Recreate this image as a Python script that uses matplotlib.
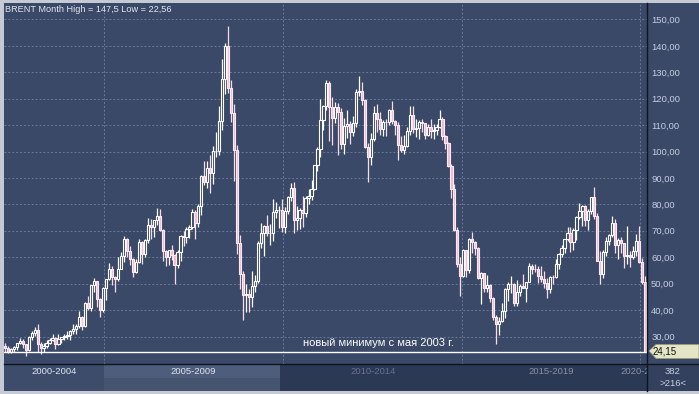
import matplotlib
matplotlib.use("Agg")
import matplotlib.pyplot as plt
from matplotlib.patches import Rectangle, Polygon
import numpy as np

plt.rcParams['font.family'] = ['Liberation Sans', 'DejaVu Sans']

# Brent, monthly bars, Apr 2002 .. Mar 2020 (216 bars)
first_month = "2002-04"
opens = [
    26.3, 25.7, 24.1, 25.3, 25.9, 27.5, 28.4, 27.1, 24.9,                    # 2002
    30.0, 31.2, 32.6, 27.3, 25.8, 26.5, 27.6, 28.7, 29.5, 27.3, 29.0, 29.8,  # 2003
    30.3, 30.5, 32.1, 33.0, 33.8, 37.5, 33.9, 42.6, 40.8, 49.6, 50.9, 44.3,  # 2004
    40.2, 48.2, 51.8, 55.4, 52.5, 51.9, 55.6, 60.6, 67.0, 62.4, 59.2, 54.6,  # 2005
    58.2, 65.7, 61.4, 66.6, 72.3, 71.3, 73.9, 75.5, 70.2, 62.5, 60.0, 62.7,  # 2006
    60.9, 57.1, 61.8, 68.1, 67.5, 70.6, 71.4, 77.1, 73.0, 79.2, 90.8, 88.6,  # 2007
    93.9, 91.8, 100.1, 100.3, 111.4, 127.4, 139.8, 124.1, 114.7, 100.6, 65.3, 53.5,  # 2008
    45.6, 45.9, 44.8, 49.2, 50.9, 65.5, 69.3, 71.7, 69.0, 69.1, 77.0, 77.7,  # 2009
    77.9, 71.5, 77.6, 82.7, 86.2, 74.0, 75.0, 78.0, 76.9, 82.3, 83.2, 85.9,  # 2010
    94.8, 101.0, 112.0, 117.4, 125.9, 116.7, 112.5, 116.7, 114.9, 102.8, 109.6, 110.5,  # 2011
    107.4, 110.9, 122.7, 122.9, 119.5, 101.9, 97.8, 104.9, 114.6, 112.4, 108.7, 111.2,  # 2012
    111.1, 115.6, 111.4, 110.0, 102.4, 100.4, 102.2, 107.7, 114.0, 108.4, 108.8, 111.0,  # 2013
    110.8, 106.4, 109.1, 107.8, 108.1, 109.4, 112.4, 106.0, 103.2, 94.7, 85.9, 70.2,  # 2014
    57.3, 53.0, 62.6, 55.1, 66.8, 65.6, 63.6, 52.2, 54.2, 48.4, 49.6, 44.6,  # 2015
    37.3, 34.7, 36.0, 39.6, 48.1, 49.7, 49.7, 42.5, 47.0, 49.1, 48.3, 50.5,  # 2016
    56.8, 55.7, 55.6, 52.8, 51.7, 50.3, 47.9, 52.7, 52.4, 57.5, 61.4, 63.6,  # 2017
    66.9, 69.1, 65.8, 70.3, 75.2, 77.6, 79.4, 74.2, 77.4, 82.7, 75.5, 58.7,  # 2018
    53.8, 61.9, 66.3, 68.4, 72.8, 64.5, 66.6, 65.2, 60.4, 60.8, 60.2, 62.4,  # 2019
    66.0, 58.2, 50.5,                                                        # 2020
]
highs = [
    27.7, 26.5, 25.6, 26.4, 27.6, 29.3, 29.2, 27.3, 30.3,
    32.0, 33.5, 34.6, 27.9, 27.4, 28.8, 29.3, 30.9, 29.8, 30.8, 30.0, 31.1,
    32.2, 32.4, 34.7, 34.6, 39.5, 37.7, 43.2, 45.4, 49.6, 52.0, 51.0, 44.5,
    48.9, 51.9, 57.7, 56.6, 53.0, 59.9, 62.0, 68.0, 67.4, 64.2, 59.6, 59.5,
    66.8, 66.0, 66.9, 74.9, 74.5, 73.9, 78.6, 78.4, 70.5, 62.8, 62.7, 64.7,
    61.1, 62.8, 68.5, 69.8, 71.3, 72.2, 78.4, 77.7, 80.3, 91.0, 96.5, 96.4,
    98.5, 102.1, 107.5, 117.4, 135.1, 141.1, 147.5, 127.1, 118.0, 102.4, 68.4, 54.9,
    50.0, 48.0, 54.7, 53.3, 66.2, 72.8, 72.3, 75.9, 72.5, 82.0, 81.0, 79.2,
    82.1, 79.0, 83.2, 88.0, 88.4, 79.4, 78.7, 83.1, 83.1, 85.8, 89.3, 94.8,
    101.7, 119.8, 117.7, 127.0, 126.6, 120.7, 118.7, 118.4, 116.6, 112.5, 115.7, 111.5,
    113.6, 123.6, 128.4, 126.3, 119.9, 103.3, 107.1, 117.3, 117.9, 115.0, 111.9, 112.2,
    116.0, 119.2, 111.9, 111.1, 105.9, 106.3, 109.3, 117.3, 117.3, 112.3, 112.0, 112.4,
    110.9, 110.5, 112.4, 110.6, 110.6, 115.7, 112.9, 106.3, 103.6, 95.3, 87.7, 71.3,
    60.0, 63.0, 62.8, 67.1, 69.6, 66.1, 64.0, 54.5, 54.2, 53.1, 50.0, 44.8,
    38.0, 37.5, 42.5, 48.5, 50.5, 52.9, 50.4, 51.2, 49.9, 53.7, 50.5, 57.9,
    57.4, 57.4, 56.6, 56.6, 54.7, 52.0, 53.0, 53.3, 59.5, 61.7, 64.7, 67.0,
    71.3, 71.3, 71.2, 75.5, 80.5, 79.6, 79.7, 78.2, 82.9, 86.7, 76.6, 62.5,
    62.6, 67.7, 68.8, 75.6, 74.5, 67.1, 67.7, 65.5, 71.9, 62.3, 64.4, 68.9,
    71.7, 59.8, 53.0,
]
lows = [
    24.3, 23.8, 23.6, 24.2, 25.0, 27.0, 25.8, 22.56, 24.6,
    28.6, 30.3, 24.1, 23.3, 24.0, 25.6, 27.0, 28.2, 25.2, 26.8, 27.6, 28.6,
    29.1, 28.5, 31.1, 30.8, 33.2, 32.5, 33.6, 39.9, 39.5, 47.0, 41.2, 37.4,
    39.4, 43.8, 51.3, 49.6, 46.8, 51.1, 55.4, 58.3, 60.0, 57.0, 52.6, 54.2,
    57.9, 57.6, 60.1, 65.5, 67.0, 67.8, 72.1, 70.0, 58.6, 56.8, 57.1, 58.8,
    49.9, 56.0, 58.7, 64.4, 65.4, 67.2, 70.8, 66.9, 71.3, 76.1, 87.3, 86.2,
    84.3, 87.9, 98.0, 98.7, 108.2, 121.7, 122.2, 111.0, 89.0, 61.3, 48.0, 36.2,
    39.4, 39.3, 41.3, 47.0, 50.1, 63.6, 60.3, 68.2, 64.7, 66.0, 75.0, 70.9,
    69.6, 69.1, 76.4, 81.3, 69.2, 70.4, 70.7, 71.3, 75.3, 80.3, 81.7, 85.3,
    92.5, 98.1, 108.2, 115.8, 104.0, 102.3, 110.8, 98.7, 100.8, 99.1, 105.2, 102.9,
    105.9, 109.1, 121.1, 117.7, 101.2, 88.5, 94.8, 104.0, 107.3, 106.2, 105.9, 106.0,
    110.1, 110.6, 106.4, 96.8, 99.9, 99.2, 101.9, 106.3, 107.1, 105.4, 104.9, 107.4,
    104.6, 105.8, 105.3, 104.8, 106.3, 108.9, 104.4, 100.9, 94.0, 82.6, 70.1, 56.4,
    45.2, 52.6, 52.5, 54.2, 61.6, 60.7, 51.8, 42.2, 46.9, 47.0, 43.0, 36.1,
    27.1, 30.4, 35.6, 36.9, 43.6, 46.6, 41.5, 41.5, 45.2, 48.3, 43.0, 50.5,
    53.6, 54.5, 50.3, 50.6, 48.2, 44.4, 46.6, 49.7, 52.3, 55.5, 60.2, 61.5,
    66.1, 61.8, 62.9, 66.7, 74.4, 71.9, 71.8, 70.3, 76.2, 74.6, 58.4, 50.0,
    52.1, 60.6, 64.6, 67.6, 61.6, 59.5, 61.6, 55.9, 57.4, 56.2, 59.5, 60.4,
    57.8, 49.8, 24.15,
]
closes = [
    25.7, 24.1, 25.3, 25.9, 27.5, 28.4, 27.1, 24.9, 30.0,
    31.2, 32.6, 27.3, 25.8, 26.5, 27.6, 28.7, 29.5, 27.3, 29.0, 29.8, 30.3,
    30.5, 32.1, 33.0, 33.8, 37.5, 33.9, 42.6, 40.8, 49.6, 50.9, 44.3, 40.2,
    48.2, 51.8, 55.4, 52.5, 51.9, 55.6, 60.6, 67.0, 62.4, 59.2, 54.6, 58.2,
    65.7, 61.4, 66.6, 72.3, 71.3, 73.9, 75.5, 70.2, 62.5, 60.0, 62.7, 60.9,
    57.1, 61.8, 68.1, 67.5, 70.6, 71.4, 77.1, 73.0, 79.2, 90.8, 88.6, 93.9,
    91.8, 100.1, 100.3, 111.4, 127.4, 139.8, 124.1, 114.7, 100.6, 65.3, 53.5, 45.6,
    45.9, 44.8, 49.2, 50.9, 65.5, 69.3, 71.7, 69.0, 69.1, 77.0, 77.7, 77.9,
    71.5, 77.6, 82.7, 86.2, 74.0, 75.0, 78.0, 76.9, 82.3, 83.2, 85.9, 94.8,
    101.0, 112.0, 117.4, 125.9, 116.7, 112.5, 116.7, 114.9, 102.8, 109.6, 110.5, 107.4,
    110.9, 122.7, 122.9, 119.5, 101.9, 97.8, 104.9, 114.6, 112.4, 108.7, 111.2, 111.1,
    115.6, 111.4, 110.0, 102.4, 100.4, 102.2, 107.7, 114.0, 108.4, 108.8, 111.0, 110.8,
    106.4, 109.1, 107.8, 108.1, 109.4, 112.4, 106.0, 103.2, 94.7, 85.9, 70.2, 57.3,
    53.0, 62.6, 55.1, 66.8, 65.6, 63.6, 52.2, 54.2, 48.4, 49.6, 44.6, 37.3,
    34.7, 36.0, 39.6, 48.1, 49.7, 49.7, 42.5, 47.0, 49.1, 48.3, 50.5, 56.8,
    55.7, 55.6, 52.8, 51.7, 50.3, 47.9, 52.7, 52.4, 57.5, 61.4, 63.6, 66.9,
    69.1, 65.8, 70.3, 75.2, 77.6, 79.4, 74.2, 77.4, 82.7, 75.5, 58.7, 53.8,
    61.9, 66.3, 68.4, 72.8, 64.5, 66.6, 65.2, 60.4, 60.8, 60.2, 62.4, 66.0,
    58.2, 50.5, 24.15,
]
period_labels = ["2000-2004", "2005-2009", "2010-2014", "2015-2019", "2020-2024"]
y_ticks = [30, 40, 50, 60, 70, 80, 90, 100, 110, 120, 130, 140, 150]
title = "BRENT Month High = 147,5 Low = 22,56"
note = "новый минимум с мая 2003 г."

o = np.array(opens); h = np.array(highs); l = np.array(lows); c = np.array(closes)
assert len(o) == len(h) == len(l) == len(c) == 216
x = np.arange(len(c))
# bar index of each January (period boundaries)
jan_idx = [(yr - 2002) * 12 - 3 for yr in (2005, 2010, 2015, 2020)]

PLOT_BG = '#3a4968'
W, H = 699, 394
fig = plt.figure(figsize=(W / 100, H / 100), dpi=100, facecolor='#c6cad4')


def px_axes(x0, y0, x1, y1, z):
    a = fig.add_axes([x0 / W, 1 - y1 / H, (x1 - x0) / W, (y1 - y0) / H], zorder=z)
    return a


# background panels (right scale, bottom period bar)
bg = fig.add_axes([0, 0, 1, 1], zorder=0)
bg.set_xlim(0, W); bg.set_ylim(H, 0); bg.axis('off')
bg.add_patch(Rectangle((647, 3), 52, 361, color=PLOT_BG, lw=0))
bg.add_patch(Rectangle((647, 364), 52, 27, color='#34415e', lw=0))

# main chart
ax = px_axes(4, 3, 647, 364, 1)
ax.set_facecolor(PLOT_BG)
for s in ax.spines.values():
    s.set_visible(False)
ax.set_xlim(-0.3, 215.7)
ax.set_ylim(19.6, 156.2)

grid_kw = dict(color='#6a7996', lw=0.7, ls=(0, (2, 2)), zorder=0.5)
for v in y_ticks:
    ax.axhline(v, **grid_kw)
for j in jan_idx:
    ax.axvline(j + 0.4, **grid_kw)

up = c >= o
dn = ~up
ax.vlines(x[up], l[up], h[up], color='white', lw=0.9, zorder=2)
ax.vlines(x[dn], l[dn], h[dn], color='#f8dce8', lw=0.9, zorder=2)
ax.bar(x[up], (c - o)[up], bottom=o[up], width=0.74, facecolor=PLOT_BG,
       edgecolor='white', lw=0.8, zorder=3)
ax.bar(x[dn], (o - c)[dn], bottom=c[dn], width=0.74, facecolor='#f0bcd2',
       edgecolor='#fce9f1', lw=0.8, zorder=3)

ax.axhline(c[-1], color='white', lw=1.0, zorder=4)

ax.yaxis.tick_right()
ax.set_yticks(y_ticks)
ax.set_yticklabels([f"{v},00" for v in y_ticks])
ax.tick_params(axis='y', length=0, pad=3, labelsize=6.8, labelcolor='#c6cee0')
ax.set_xticks([])

# bottom period bar
bar = px_axes(4, 364, 647, 391, 2)
bar.set_xlim(4, 647); bar.set_ylim(391, 364); bar.axis('off')
bar.add_patch(Rectangle((4, 364), 100, 27, color='#3d4c6b', lw=0))
bar.add_patch(Rectangle((104, 364), 176, 14, color='#4e5d7b', lw=0))
bar.add_patch(Rectangle((104, 378), 176, 13, color='#45546f', lw=0))
bar.add_patch(Rectangle((280, 364), 367, 27, color='#2c3954', lw=0))
centers = [54, 193, 373, 551, 643]
colors = ['#dfe4ee', '#dfe4ee', '#66728c', '#8790a6', '#8790a6']
for lab, cx, col in zip(period_labels, centers, colors):
    bar.text(cx, 372, lab, ha='center', va='center', fontsize=6.8,
             color=col, clip_on=True)

# overlay: separators, labels, price tag
fg = fig.add_axes([0, 0, 1, 1], zorder=3)
fg.set_xlim(0, W); fg.set_ylim(H, 0); fg.axis('off')
fg.patch.set_alpha(0)
fg.plot([647, 647], [3, 391], color='#10141c', lw=1)
fg.plot([4, 699], [364, 364], color='#10141c', lw=1)
fg.text(5, 9.5, title, ha='left', va='center', fontsize=6.6, color='#e2e6ef')
fg.text(303, 342.5, note, ha='left', va='center', fontsize=8, color='white')
fg.add_patch(Polygon([[649, 351], [656, 344.5], [699, 344.5], [699, 358.5],
                      [656, 358.5]], closed=True, facecolor='#e4e4c6',
                     edgecolor='#9a9a80', lw=0.6))
fg.text(653, 351.5, f"{c[-1]:.2f}".replace('.', ','), ha='left', va='center',
        fontsize=7, color='#111111')
fg.text(673, 372, "382", ha='center', va='center', fontsize=6.8, color='#c8d0e0')
fg.text(673, 384, ">216<", ha='center', va='center', fontsize=6.8, color='#c8d0e0')

fig.savefig("out.png", dpi=100, facecolor=fig.get_facecolor())
